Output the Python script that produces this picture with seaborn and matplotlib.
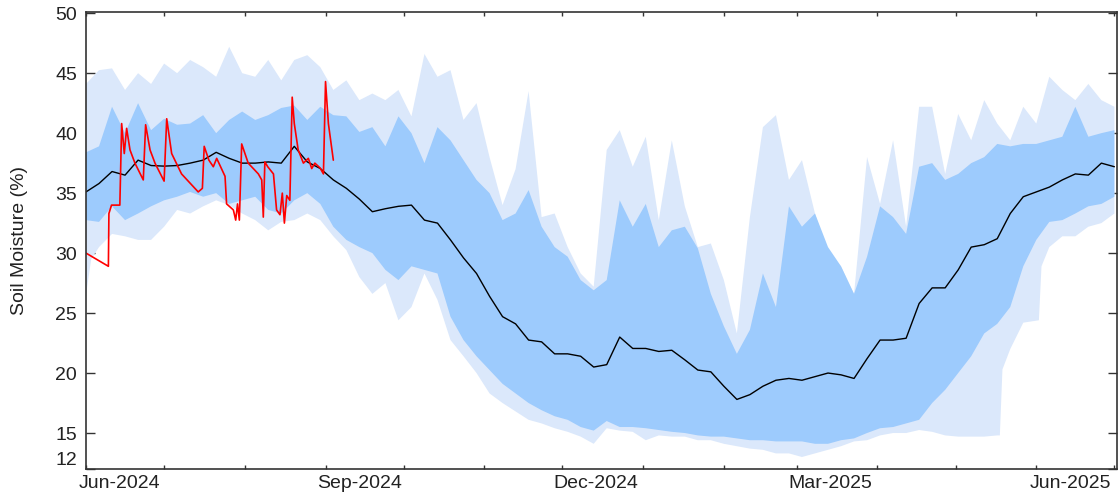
import numpy as np
import pandas as pd
import matplotlib.pyplot as plt
import seaborn as sns

# soil moisture climatology, sampled every 5 days from 1 Jun 2024
start = pd.Timestamp("2024-06-01")
days = list(range(0, 400, 5))

light_hi = [44.1, 45.25, 45.4, 43.6, 45.0, 44.1, 45.8, 45.0, 46.1, 45.5,
            44.7, 47.2, 45.0, 44.7, 46.1, 44.4, 46.1, 46.5, 45.5, 43.6,
            44.4, 42.75, 43.3, 42.75, 43.6, 41.4, 46.6, 44.7, 45.25, 41.1,
            42.5, 38.0, 34.0, 37.0, 43.5, 33.0, 33.3, 30.5, 28.3, 27.2,
            38.6, 40.25, 37.2, 39.7, 32.75, 39.4, 33.9, 30.5, 30.8, 27.75,
            23.3, 33.0, 40.5, 41.5, 36.1, 37.75, 33.3, 30.0, 28.9, 26.6,
            38.0, 34.1, 39.4, 32.2, 42.2, 42.2, 36.6, 41.6, 39.4, 42.75,
            40.8, 39.4, 42.2, 40.8, 44.7, 43.6, 42.75, 44.1, 42.75, 42.2]

dark_hi = [38.4, 38.9, 42.2, 40.0, 42.5, 40.25, 41.2, 40.7, 40.8, 41.5,
           40.0, 41.1, 41.8, 41.1, 41.5, 42.1, 42.3, 41.1, 42.2, 41.5,
           41.4, 40.1, 40.5, 38.9, 41.4, 40.0, 37.5, 40.5, 39.4, 37.75,
           36.1, 35.0, 32.75, 33.3, 35.25, 32.2, 30.5, 29.7, 27.75, 26.9,
           27.75, 34.4, 32.2, 34.1, 30.5, 31.9, 32.2, 30.4, 26.6, 23.9,
           21.6, 23.6, 28.3, 25.5, 33.9, 32.2, 33.3, 30.5, 28.9, 26.6,
           29.7, 33.9, 33.0, 31.6, 37.2, 37.5, 36.1, 36.6, 37.5, 38.0,
           39.1, 38.9, 39.1, 39.1, 39.4, 39.7, 42.2, 39.7, 40.0, 40.25]

dark_lo = [32.75, 32.6, 33.9, 32.75, 33.3, 33.9, 34.4, 34.7, 35.1, 34.7,
           35.0, 34.1, 34.4, 34.7, 33.6, 33.3, 34.4, 35.0, 34.1, 32.2,
           31.1, 30.5, 30.0, 28.6, 27.75, 28.9, 28.6, 28.3, 24.7, 22.75,
           21.4, 20.25, 19.1, 18.3, 17.5, 16.9, 16.4, 16.1, 15.5, 15.2,
           16.0, 15.5, 15.5, 15.4, 15.25, 15.1, 15.0, 14.8, 14.7, 14.7,
           14.55, 14.4, 14.4, 14.3, 14.3, 14.3, 14.1, 14.1, 14.4, 14.55,
           15.0, 15.4, 15.5, 15.8, 16.1, 17.5, 18.6, 20.0, 21.4, 23.3,
           24.1, 25.5, 28.9, 31.1, 32.6, 32.75, 33.3, 33.9, 34.1, 34.7]

# lower light edge has two sharp steps in spring, so it gets its own days
light_lo_days = [0, 2, 5, 10, 15, 20, 25, 30, 35, 40, 45,
                 50, 55, 60, 65, 70, 75, 80, 85, 90, 95,
                 100, 105, 110, 115, 120, 125, 130, 135, 140, 145,
                 150, 155, 160, 165, 170, 175, 180, 185, 190, 195,
                 200, 205, 210, 215, 220, 225, 230, 235, 240, 245,
                 250, 255, 260, 265, 270, 275, 280, 285, 290, 295,
                 300, 305, 310, 315, 320, 325, 330, 335, 340, 345,
                 350, 351, 352, 355, 360, 366, 367, 370, 375, 380,
                 385, 390, 395]
light_lo = [26.5, 29.5, 30.5, 31.6, 31.4, 31.1, 31.1, 32.2, 33.6, 33.3, 33.9,
            34.4, 34.0, 33.3, 32.75, 31.9, 32.6, 32.75, 33.3, 32.75, 31.4,
            30.25, 28.0, 26.6, 27.5, 24.4, 25.5, 28.3, 26.1, 22.75, 21.4,
            20.0, 18.3, 17.5, 16.8, 16.1, 15.8, 15.4, 15.1, 14.7, 14.1,
            15.4, 15.2, 15.1, 14.4, 14.8, 14.7, 14.7, 14.4, 14.4, 14.1,
            13.9, 13.7, 13.6, 13.3, 13.3, 13.0, 13.3, 13.6, 13.9, 14.3,
            14.4, 14.8, 15.0, 15.0, 15.25, 15.1, 14.8, 14.7, 14.7, 14.7,
            14.8, 14.8, 20.3, 22.0, 24.2, 24.4, 28.9, 30.5, 31.4, 31.4,
            32.2, 32.5, 33.3]

median = [35.1, 35.8, 36.8, 36.5, 37.75, 37.3, 37.25, 37.3, 37.5, 37.75,
          38.4, 37.9, 37.5, 37.5, 37.6, 37.5, 38.9, 37.6, 37.05, 36.1,
          35.4, 34.5, 33.45, 33.7, 33.9, 34.0, 32.75, 32.5, 31.1, 29.6,
          28.3, 26.4, 24.7, 24.1, 22.75, 22.6, 21.6, 21.6, 21.4, 20.5,
          20.7, 23.0, 22.05, 22.05, 21.8, 21.9, 21.1, 20.25, 20.1, 18.9,
          17.8, 18.2, 18.9, 19.4, 19.55, 19.4, 19.7, 20.0, 19.85, 19.55,
          21.2, 22.75, 22.75, 22.9, 25.8, 27.1, 27.1, 28.6, 30.5, 30.7,
          31.2, 33.3, 34.7, 35.1, 35.5, 36.1, 36.6, 36.5, 37.5, 37.2]

# current season (days after 1 Jun 2024)
current_days = [0, 8.6, 8.8, 9.8, 13, 13.7, 14.7, 15.6, 16.9, 18.8,
                22, 22.9, 24.6, 26.5, 30, 31, 32.9, 36.7, 43.1, 44.7,
                45.4, 47.2, 48.9, 50.2, 53.4, 54, 56.6, 57.5, 58.2, 58.9,
                59.8, 62.3, 66.2, 67.5, 68.1, 68.7, 69.8, 72, 73.2, 74.5,
                75.4, 76.2, 77.1, 78.3, 79.2, 80, 81.5, 83.5, 85.4, 86.7,
                87.9, 89.9, 91.2, 92, 93.1, 95]
current = [30.0, 28.9, 33.3, 34.0, 34.0, 40.8, 38.3, 40.4, 38.6, 37.5,
           36.1, 40.7, 38.6, 37.5, 36.0, 41.2, 38.3, 36.6, 35.1, 35.4,
           38.9, 37.75, 37.2, 37.9, 36.4, 34.1, 33.6, 32.75, 34.1, 32.75,
           39.1, 37.5, 36.6, 36.1, 33.0, 37.6, 37.2, 36.6, 33.6, 33.2,
           35.0, 32.5, 34.8, 34.4, 43.0, 40.8, 38.6, 37.5, 37.9, 37.05,
           37.5, 37.1, 36.6, 44.3, 40.8, 37.75]

yticks = [12, 15, 20, 25, 30, 35, 40, 45, 50]
label_months = ["2024-06-14", "2024-09-14", "2024-12-14", "2025-03-14", "2025-06-14"]

sns.set_style("ticks")
plt.rcParams["font.family"] = ["Liberation Sans", "DejaVu Sans"]


def to_dates(d):
    return start + pd.to_timedelta(d, unit="D")


def band(ax, hi_days, hi, lo_days, lo, color, z):
    # polygon: upper edge forward, lower edge back
    xs = np.concatenate([to_dates(hi_days), to_dates(lo_days)[::-1]])
    ys = np.concatenate([hi, lo[::-1]])
    ax.fill(xs, ys, color=color, lw=0, zorder=z)


fig = plt.figure(figsize=(11.18, 4.93), dpi=100)
ax = fig.add_axes([86 / 1118, 24 / 493, 1031 / 1118, 457 / 493])

band(ax, days, light_hi, light_lo_days, light_lo, "#dbe8fb", 3)
band(ax, days, dark_hi, days, dark_lo, "#9dcbfd", 3.1)
sns.lineplot(x=to_dates(days), y=median, ax=ax, color="black", lw=1, zorder=4)
sns.lineplot(x=to_dates(current_days), y=current, ax=ax, color="red", lw=1.2,
             zorder=5)

ax.set_xlim(start, start + pd.Timedelta(days=396))
ax.set_ylim(12, 50.1)

ax.set_xticks(pd.date_range("2024-06-01", "2025-07-01", freq="MS"))
ax.set_xticklabels([])
ax.set_xticks(pd.to_datetime(label_months), minor=True)
ax.set_xticklabels([pd.Timestamp(m).strftime("%b-%Y") for m in label_months],
                   minor=True)
ax.tick_params(axis="x", which="major", direction="in", length=3, width=1,
               color="#333333", top=True, bottom=True)
ax.tick_params(axis="x", which="minor", length=0, labelsize=14, pad=4,
               colors="#222222")

ax.set_yticks(yticks)
ax.set_yticklabels([str(t) for t in yticks])
ax.tick_params(axis="y", direction="in", length=6.5, width=1, color="#333333",
               left=True, right=True, labelsize=14, pad=6.5, labelcolor="#222222")
ax.get_yticklabels()[0].set_va("bottom")

ax.set_xlabel("")
ax.set_ylabel("Soil Moisture (%)", fontsize=14, color="#222222")
ax.yaxis.set_label_coords(-0.056, 0.5)

for side in ["left", "right", "top", "bottom"]:
    ax.spines[side].set_visible(True)
    ax.spines[side].set_color("#333333")
    ax.spines[side].set_linewidth(1.2)
    ax.spines[side].set_zorder(6)

fig.savefig("out.png", dpi=100)
